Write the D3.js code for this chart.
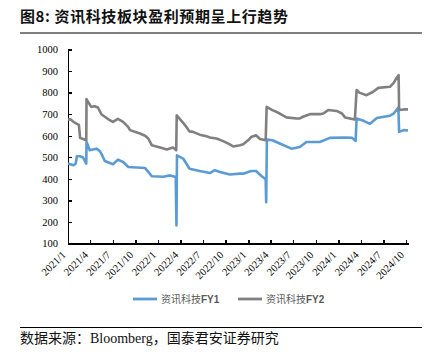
<!DOCTYPE html>
<html>
<head>
<meta charset="utf-8">
<script src="https://cdn.jsdelivr.net/npm/d3@7"></script>
<style>
  body { margin: 0; background: #fff; }
  svg { display: block; }
  .axis path, .axis line { stroke: #000; stroke-width: 1.3; shape-rendering: crispEdges; }
  .axis text { font-family: "Liberation Serif", serif; font-size: 10.5px; fill: #000; }
</style>
</head>
<body>
<div id="chart"></div>
<script>
// FY2 earnings expectation (grey)
const fy2Dates = ["2021-01-01","2021-01-12","2021-01-23","2021-02-06","2021-02-14","2021-02-19","2021-03-03","2021-03-16","2021-03-17","2021-03-24","2021-04-05","2021-04-19","2021-05-02","2021-05-16","2021-05-30","2021-06-15","2021-07-02","2021-07-22","2021-08-12","2021-09-02","2021-09-09","2021-10-19","2021-11-09","2021-11-22","2021-12-06","2022-01-09","2022-02-05","2022-03-02","2022-03-15","2022-03-17","2022-03-25","2022-04-12","2022-04-25","2022-05-08","2022-05-22","2022-06-18","2022-07-15","2022-07-29","2022-08-25","2022-09-21","2022-10-18","2022-11-01","2022-11-28","2022-12-11","2023-01-01","2023-01-12","2023-02-01","2023-02-17","2023-03-12","2023-03-16","2023-04-08","2023-04-24","2023-05-08","2023-06-04","2023-07-14","2023-07-28","2023-08-10","2023-09-07","2023-10-17","2023-10-31","2023-11-20","2023-12-24","2024-01-15","2024-01-27","2024-03-07","2024-03-14","2024-03-25","2024-04-23","2024-05-20","2024-06-10","2024-07-27","2024-08-11","2024-08-24","2024-08-31","2024-09-02","2024-09-21","2024-10-08"];
const fy2Values = [675,676,664,655,650,590,585,579,770,755,734,737,731,700,688,675,664,678,664,640,626,610,600,587,556,545,536,545,533,695,684,660,641,620,618,605,598,592,587,575,560,550,556,560,580,594,602,585,579,734,719,711,703,685,680,680,688,700,700,703,719,715,703,685,675,812,800,788,804,822,827,845,870,881,719,722,722];

// FY1 earnings expectation (blue)
const fy1Dates = ["2021-01-01","2021-01-23","2021-02-01","2021-02-06","2021-02-19","2021-03-03","2021-03-16","2021-03-17","2021-03-30","2021-04-26","2021-05-09","2021-05-16","2021-05-30","2021-07-02","2021-07-22","2021-08-12","2021-09-02","2021-11-09","2021-11-22","2021-12-06","2022-01-22","2022-02-18","2022-03-13","2022-03-16","2022-03-18","2022-04-12","2022-05-08","2022-06-18","2022-07-29","2022-08-18","2022-09-08","2022-10-18","2022-11-28","2022-12-11","2023-01-12","2023-02-01","2023-02-24","2023-03-12","2023-03-14","2023-03-17","2023-04-08","2023-05-08","2023-06-24","2023-07-28","2023-08-24","2023-10-17","2023-11-27","2024-01-27","2024-02-25","2024-03-10","2024-03-14","2024-04-11","2024-05-07","2024-06-04","2024-07-27","2024-08-11","2024-08-30","2024-09-02","2024-09-21","2024-10-08"];
const fy1Values = [471,463,470,505,505,499,471,571,533,540,530,517,483,468,489,478,455,450,432,412,410,416,408,184,509,494,447,436,427,440,432,420,424,424,436,436,412,398,292,582,579,564,540,548,571,571,590,592,590,576,680,669,655,682,693,703,731,618,626,624];

const yTicks = [100,200,300,400,500,600,700,800,900,1000];
const xTickDates = ["2021-01-01","2021-04-01","2021-07-01","2021-10-01","2022-01-01","2022-04-01","2022-07-01","2022-10-01","2023-01-01","2023-04-01","2023-07-01","2023-10-01","2024-01-01","2024-04-01","2024-07-01","2024-10-01"];
const seriesNames = ["资讯科技FY1","资讯科技FY2"];
const seriesColors = ["#5B9BD5","#808080"];

const width = 435, height = 363;
const parse = d3.timeParse("%Y-%m-%d");
const fmt = d3.timeFormat("%Y/%-m");

const svg = d3.select("#chart").append("svg")
  .attr("width", width).attr("height", height);

// title + rule
svg.append("text")
  .attr("x", 20).attr("y", 22)
  .attr("font-family", "'Noto Sans CJK SC', sans-serif")
  .attr("font-weight", "bold")
  .attr("font-size", 15)
  .attr("letter-spacing", 0.6)
  .attr("fill", "#111")
  .text("图8:  资讯科技板块盈利预期呈上行趋势");

svg.append("line")
  .attr("x1", 20).attr("x2", 422).attr("y1", 33).attr("y2", 33)
  .attr("stroke", "#000").attr("stroke-width", 1);

const x = d3.scaleTime()
  .domain([parse("2021-01-01"), parse("2024-10-08")])
  .range([68, 408]);
const y = d3.scaleLinear().domain([100, 1000]).range([243.5, 49.5]);

// axes
svg.append("g").attr("class", "axis")
  .attr("transform", "translate(68,0)")
  .call(d3.axisLeft(y).tickValues(yTicks).tickFormat(d3.format("d"))
    .tickSize(-4).tickSizeOuter(0).tickPadding(10));

const gX = svg.append("g").attr("class", "axis")
  .attr("transform", "translate(0,243.5)")
  .call(d3.axisBottom(x).tickValues(xTickDates.map(parse)).tickSize(-4).tickSizeOuter(0).tickFormat(fmt));

gX.selectAll("text")
  .attr("text-anchor", "end")
  .attr("dy", null)
  .attr("y", 0)
  .attr("transform", "translate(-2,12) rotate(-45)");

// lines
const line = d3.line()
  .x(d => x(d.date))
  .y(d => y(d.value));

const fy1 = fy1Dates.map((d, i) => ({ date: parse(d), value: fy1Values[i] }));
const fy2 = fy2Dates.map((d, i) => ({ date: parse(d), value: fy2Values[i] }));

[fy1, fy2].forEach(function (data, i) {
  svg.append("path")
    .datum(data)
    .attr("fill", "none")
    .attr("stroke", seriesColors[i])
    .attr("stroke-width", 2.6)
    .attr("stroke-linejoin", "round")
    .attr("d", line);
});

// legend
const legendX = [133, 238];
seriesNames.forEach(function (name, i) {
  const g = svg.append("g").attr("transform", "translate(" + legendX[i] + ",299)");
  g.append("line")
    .attr("x1", 0).attr("x2", 24).attr("y1", 0).attr("y2", 0)
    .attr("stroke", seriesColors[i]).attr("stroke-width", 2.8);
  const t = g.append("text")
    .attr("x", 28).attr("y", 3.5)
    .attr("font-size", 10)
    .attr("fill", "#595959");
  t.append("tspan").attr("font-family", "'Noto Sans CJK SC', sans-serif").text(name.slice(0, 4));
  t.append("tspan").attr("font-family", "'Liberation Sans', Arial, sans-serif").attr("font-weight", "bold").text(name.slice(4));
});

// source
svg.append("line")
  .attr("x1", 20).attr("x2", 422).attr("y1", 327.5).attr("y2", 327.5)
  .attr("stroke", "#000").attr("stroke-width", 1);

const src = svg.append("text")
  .attr("x", 20).attr("y", 343)
  .attr("font-size", 14)
  .attr("fill", "#111");
src.append("tspan").attr("font-family", "'Noto Sans CJK SC', sans-serif").text("数据来源：");
src.append("tspan").attr("font-family", "'Liberation Serif', serif").text("Bloomberg");
src.append("tspan").attr("font-family", "'Noto Sans CJK SC', sans-serif").text("，国泰君安证券研究");
</script>
</body>
</html>
